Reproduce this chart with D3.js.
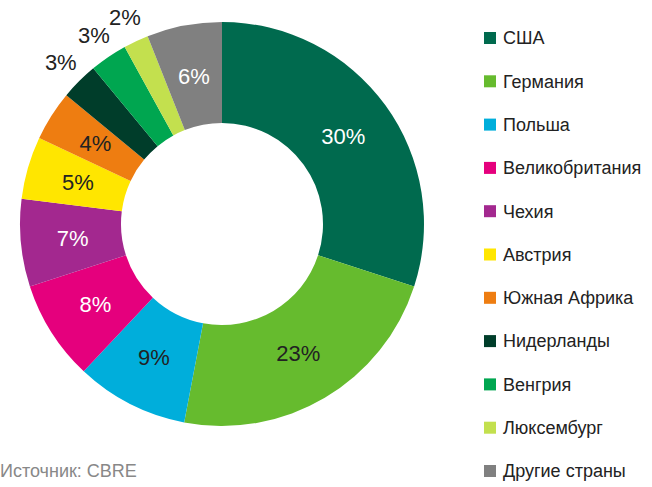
<!DOCTYPE html>
<html><head><meta charset="utf-8">
<script src="https://cdn.jsdelivr.net/npm/d3@7"></script>
<style>body{margin:0;background:#fff}text{font-family:"Liberation Sans",Arial,sans-serif}</style>
</head><body>
<svg id="c" width="652" height="487"></svg>
<script>
var countries = ["США","Германия","Польша","Великобритания","Чехия","Австрия","Южная Африка","Нидерланды","Венгрия","Люксембург","Другие страны"];
var shares = [30,23,9,8,7,5,4,3,3,2,6];
var colors = ["#006A4E","#66BB2E","#00AEDB","#E5007D","#A3288F","#FFE600","#EE7D11","#003D2A","#00A650","#C3E04E","#808080"];
var labelColors = ["#fff","#222","#222","#fff","#fff","#222","#222","#222","#222","#222","#fff"];
var outside = [false,false,false,false,false,false,false,true,true,true,false];

var svg = d3.select("#c");
var g = svg.append("g").attr("transform","translate(222,224)");
var pie = d3.pie().sort(null)(shares);
var arc = d3.arc().innerRadius(101).outerRadius(202);
var inArc = d3.arc().innerRadius(150).outerRadius(150);
var outArc = d3.arc().innerRadius(228).outerRadius(228);

g.selectAll("path").data(pie).enter().append("path")
  .attr("d",arc).attr("fill",(d,i)=>colors[i]);

g.selectAll("text.l").data(pie).enter().append("text")
  .attr("class","l")
  .attr("transform",(d,i)=>"translate("+(outside[i]?outArc:inArc).centroid(d)+")")
  .attr("text-anchor","middle").attr("dy","0.35em")
  .attr("font-size",22)
  .attr("fill",(d,i)=>outside[i]?"#222":labelColors[i])
  .text(d=>d.data+"%");

var leg = svg.append("g").selectAll("g").data(countries).enter().append("g")
  .attr("transform",(d,i)=>"translate(484,"+(38+i*43.3)+")");
leg.append("rect").attr("x",0).attr("y",-6).attr("width",12).attr("height",12)
  .attr("fill",(d,i)=>colors[i]);
leg.append("text").attr("x",19).attr("dy","0.35em").attr("font-size",18)
  .attr("fill","#222").text(d=>d);

svg.append("text").attr("x",0).attr("y",477).attr("font-size",18)
  .attr("fill","#888").text("Источник: CBRE");
</script>
</body></html>
